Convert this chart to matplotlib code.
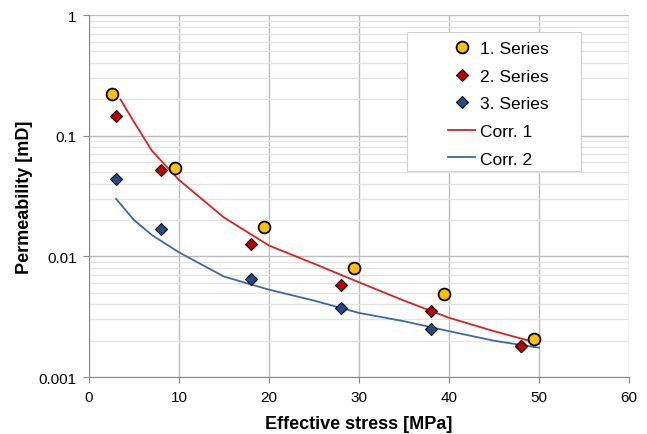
import numpy as np
import matplotlib
matplotlib.use('Agg')
import matplotlib.pyplot as plt
from matplotlib.patches import Rectangle
from matplotlib.ticker import LogLocator, NullFormatter, FixedLocator

plt.rcParams['font.family'] = ['Liberation Sans', 'DejaVu Sans']

# 测量数据
s1_x = [2.5, 9.5, 19.5, 29.5, 39.5, 49.5]
s1_y = [0.22, 0.054, 0.0175, 0.0080, 0.0049, 0.00205]

s2_x = [3, 8, 18, 28, 38, 48]
s2_y = [0.145, 0.052, 0.0127, 0.0058, 0.0035, 0.0018]

s3_x = [3, 8, 18, 28, 38, 48]
s3_y = [0.044, 0.017, 0.0065, 0.0037, 0.0025, 0.0018]

# 拟合曲线
c1_x = [3.5, 5, 7, 10, 15, 20, 25, 30, 35, 40, 45, 50]
c1_y = [0.20, 0.13, 0.075, 0.043, 0.021, 0.0123, 0.0087, 0.0061, 0.0043, 0.0031, 0.0024, 0.0019]

c2_x = [3, 5, 7, 10, 15, 20, 25, 30, 35, 40, 45, 50]
c2_y = [0.030, 0.020, 0.015, 0.0108, 0.0068, 0.0053, 0.0043, 0.0034, 0.0029, 0.0024, 0.0020, 0.00175]

fig = plt.figure(figsize=(6.47, 4.35), dpi=100)
ax = fig.add_axes([0.1376, 0.131, 0.8344, 0.832])

ax.set_yscale('log')
ax.set_xlim(0, 60)
ax.set_ylim(0.001, 1)

# 网格
ax.yaxis.set_minor_locator(LogLocator(base=10, subs=np.arange(2, 10)))
ax.yaxis.set_minor_formatter(NullFormatter())
ax.grid(which='major', color='#BDBDBD', linewidth=1.0)
ax.grid(which='minor', axis='y', color='#E3E3E3', linewidth=0.9)
ax.set_axisbelow(True)

ax.plot(c1_x, c1_y, color='#E02020', linewidth=1.3, label='Corr. 1', zorder=2)
ax.plot(c2_x, c2_y, color='#3A6AA5', linewidth=1.3, label='Corr. 2', zorder=2)

ax.plot(s3_x, s3_y, 'D', color='#1F4E8C', markeredgecolor='black', markeredgewidth=0.8,
        markersize=6.5, label='3. Series', zorder=3)
ax.plot(s2_x, s2_y, 'D', color='#C00000', markeredgecolor='black', markeredgewidth=0.8,
        markersize=6.5, label='2. Series', zorder=4)
ax.plot(s1_x, s1_y, 'o', color='#FFC000', markeredgecolor='black', markeredgewidth=1.3,
        markersize=8.5, label='1. Series', zorder=5)

ax.set_xticks(range(0, 61, 10))
ax.yaxis.set_major_locator(FixedLocator([0.001, 0.01, 0.1, 1]))
ax.set_yticklabels(['0.001', '0.01', '0.1', '1'])
ax.tick_params(axis='both', which='major', labelsize=11, length=4, color='#888888', pad=5)
ax.tick_params(axis='y', which='minor', length=0)

for side in ['top', 'right']:
    ax.spines[side].set_visible(False)
for side in ['left', 'bottom']:
    ax.spines[side].set_color('#888888')

ax.set_xlabel('Effective stress [MPa]', fontsize=13, fontweight='bold', labelpad=8)
ax.set_ylabel('Permeability [mD]', fontsize=13, fontweight='bold', labelpad=4)

# 图例背景框
ax.add_patch(Rectangle((0.589, 0.569), 0.322, 0.384, transform=ax.transAxes,
                       facecolor='white', edgecolor='#D0D0D0', linewidth=0.8, zorder=6))

handles, labels = ax.get_legend_handles_labels()
order = [4, 3, 2, 0, 1]
leg = ax.legend([handles[i] for i in order], [labels[i] for i in order],
                loc='upper left', bbox_to_anchor=(0.665, 0.929), fontsize=12.5,
                frameon=False, labelspacing=0.72, handlelength=1.56,
                handletextpad=0.3, borderpad=0, borderaxespad=0)
leg.set_zorder(7)

plt.savefig('out.png', dpi=100)
